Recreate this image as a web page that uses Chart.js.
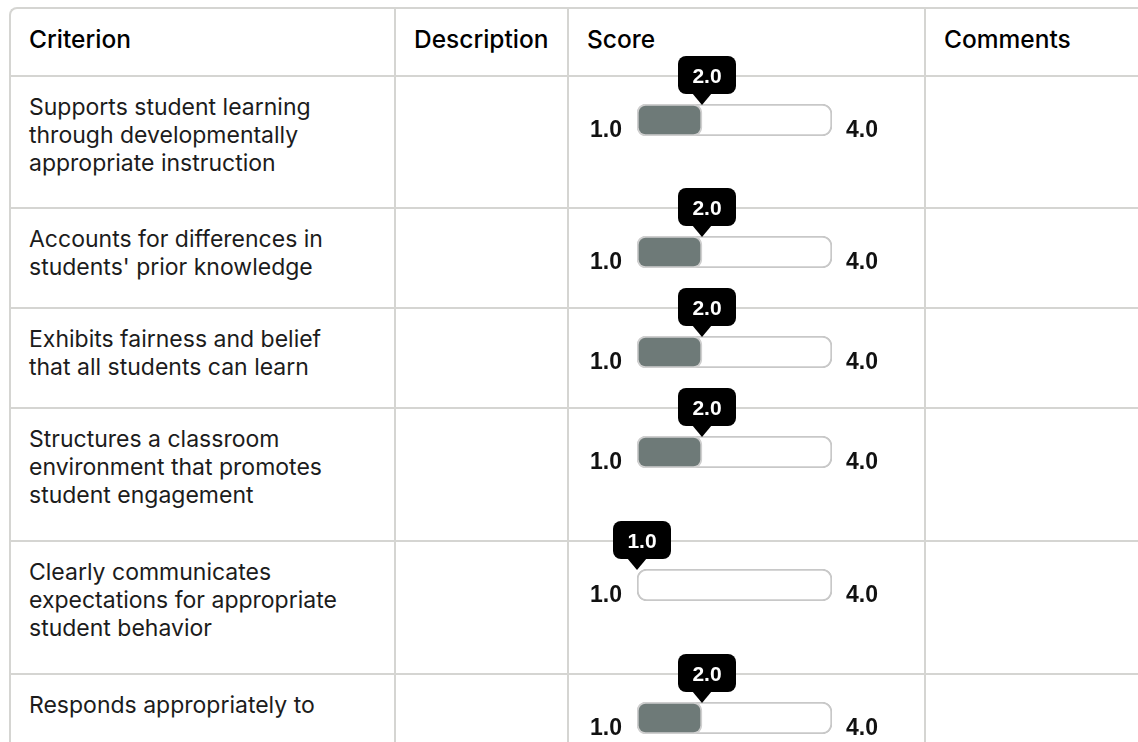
<!DOCTYPE html>
<html>
<head>
  <title>Rubric scores</title>
  <script src="https://cdn.jsdelivr.net/npm/chart.js@4.4.1/dist/chart.umd.min.js"></script>
  <style>
    body {
      margin: 0;
      background: #fff;
      overflow: hidden;
      font-family: Inter, Lato, sans-serif;
      color: #1c1c1c;
    }
    #rubric {
      position: absolute;
      left: 9px;
      top: 7px;
      display: grid;
      grid-template-columns: 385px 173px 357px 300px;
      border-top: 2px solid #d5d5d2;
      border-left: 2px solid #d5d5d2;
      border-top-left-radius: 8px;
    }
    .cell {
      box-sizing: border-box;
      border-right: 2px solid #d5d5d2;
      border-bottom: 2px solid #d5d5d2;
      padding: 16px 18px 0 18px;
      font-size: 23px;
      line-height: 28px;
      white-space: pre-line;
    }
    .head {
      font-weight: 500;
      font-size: 24.5px;
      color: #000;
    }
    .score {
      position: relative;
      padding: 0;
    }
    .slider {
      position: absolute;
      left: 0;
      top: -24px;
    }
  </style>
</head>
<body>
  <div id="rubric"></div>

  <script>
    // Table content
    var headers = ['Criterion', 'Description', 'Score', 'Comments'];
    var criteria = [
      'Supports student learning\nthrough developmentally\nappropriate instruction',
      'Accounts for differences in\nstudents\' prior knowledge',
      'Exhibits fairness and belief\nthat all students can learn',
      'Structures a classroom\nenvironment that promotes\nstudent engagement',
      'Clearly communicates\nexpectations for appropriate\nstudent behavior',
      'Responds appropriately to'
    ];
    var scores = [2.0, 2.0, 2.0, 2.0, 1.0, 2.0];
    var scoreMin = 1.0;
    var scoreMax = 4.0;

    // Layout
    var headerHeight = 68;
    var rowHeights = [132, 100, 100, 133, 133, 133];

    var grid = document.getElementById('rubric');
    grid.style.gridTemplateRows = [headerHeight].concat(rowHeights).map(function(h) { return h + 'px'; }).join(' ');

    function addCell(text, cls) {
      var div = document.createElement('div');
      div.className = 'cell ' + (cls || '');
      div.textContent = text || '';
      grid.appendChild(div);
      return div;
    }

    headers.forEach(function(h) { addCell(h, 'head'); });

    // Draws the min / max labels and the value bubble on top of the slider bar
    var sliderPlugin = {
      id: 'sliderDecor',
      afterDatasetsDraw: function(chart) {
        var ctx = chart.ctx;
        var area = chart.chartArea;
        var xs = chart.scales.x;
        var value = chart.data.datasets[0].data[0][1];

        ctx.save();
        ctx.fillStyle = '#111';
        ctx.font = 'bold 23px "Liberation Sans", Arial, sans-serif';
        ctx.textBaseline = 'alphabetic';
        ctx.textAlign = 'right';
        ctx.fillText(xs.min.toFixed(1), area.left - 15, area.bottom + 1);
        ctx.textAlign = 'left';
        ctx.fillText(xs.max.toFixed(1), area.right + 14, area.bottom + 1);

        // bubble
        var px = xs.getPixelForValue(value);
        var w = 58, h = 38, r = 8;
        var bx = px + 5 - w / 2;
        var by = area.top - 10 - h;
        ctx.fillStyle = '#000';
        ctx.beginPath();
        ctx.roundRect(bx, by, w, h, r);
        ctx.fill();
        ctx.beginPath();
        ctx.moveTo(px - 10, by + h - 1);
        ctx.lineTo(px + 10, by + h - 1);
        ctx.lineTo(px, area.top + 1);
        ctx.closePath();
        ctx.fill();

        ctx.fillStyle = '#fff';
        ctx.font = 'bold 21px "Liberation Sans", Arial, sans-serif';
        ctx.textAlign = 'center';
        ctx.textBaseline = 'alphabetic';
        ctx.fillText(value.toFixed(1), bx + w / 2, by + h / 2 + 7.5);
        ctx.restore();
      }
    };

    for (var i = 0; i < criteria.length; i++) {
      addCell(criteria[i]);
      addCell('');
      var cell = addCell('', 'score');
      addCell('');

      var boxH = rowHeights[i] + 22;
      var holder = document.createElement('div');
      holder.className = 'slider';
      var canvas = document.createElement('canvas');
      canvas.width = 355;
      canvas.height = boxH;
      holder.appendChild(canvas);
      cell.appendChild(holder);

      new Chart(canvas.getContext('2d'), {
        type: 'bar',
        data: {
          labels: [criteria[i]],
          datasets: [{
            // filled part
            data: [[scoreMin, scores[i]]],
            backgroundColor: '#6e7a78',
            borderColor: '#cfcfcf',
            borderWidth: 2,
            borderRadius: 9,
            borderSkipped: false,
            barThickness: 32,
            grouped: false
          }, {
            // empty track
            data: [[scoreMin, scoreMax]],
            backgroundColor: '#ffffff',
            borderColor: '#c8c8c8',
            borderWidth: 2,
            borderRadius: 10,
            borderSkipped: false,
            barThickness: 32,
            grouped: false
          }]
        },
        options: {
          indexAxis: 'y',
          responsive: false,
          animation: false,
          events: [],
          layout: {
            padding: { left: 68, right: 92, top: 51, bottom: boxH - 83 }
          },
          plugins: {
            legend: { display: false },
            tooltip: { enabled: false }
          },
          scales: {
            x: { type: 'linear', min: scoreMin, max: scoreMax, display: false },
            y: { display: false }
          }
        },
        plugins: [sliderPlugin]
      });
    }
  </script>
</body>
</html>
